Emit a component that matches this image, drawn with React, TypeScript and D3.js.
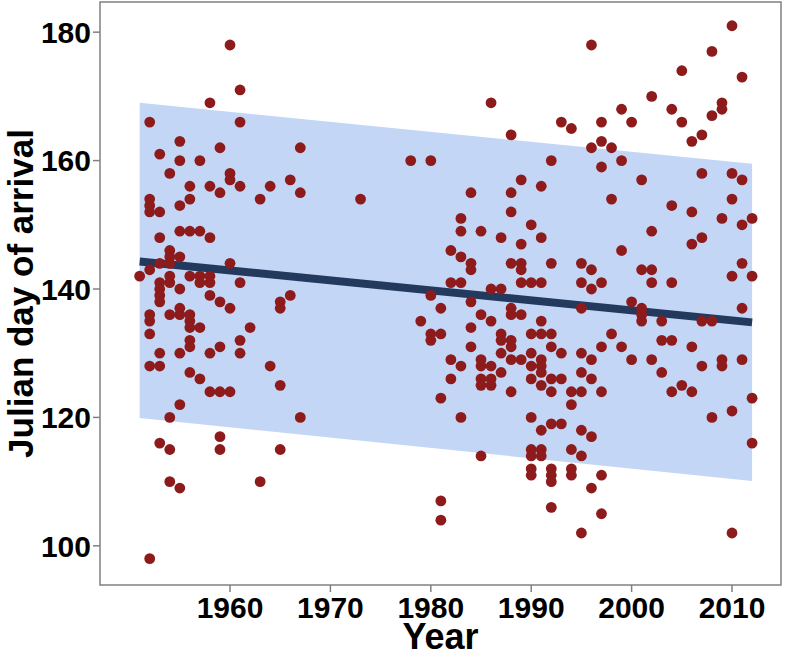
import React from "react";
import { scaleLinear, line, area } from "d3";

// years that have observations, and the arrival days seen in each of them
const obsYears = [
  1951, 1952, 1953, 1954, 1955, 1956, 1957, 1958, 1959, 1960, 1961, 1962, 1963,
  1964, 1965, 1966, 1967, 1973, 1978, 1979, 1980, 1981, 1982, 1983, 1984, 1985,
  1986, 1987, 1988, 1989, 1990, 1991, 1992, 1993, 1994, 1995, 1996, 1997, 1998,
  1999, 2000, 2001, 2002, 2003, 2004, 2005, 2006, 2007, 2008, 2009, 2010, 2011,
  2012,
];
const obsDays = [
  [142],
  [166, 154, 153, 152, 143, 136, 135, 133, 128, 98],
  [161, 152, 148, 144, 141, 140, 139, 138, 130, 128, 116],
  [158, 146, 145, 144, 142, 141, 136, 120, 115, 110],
  [163, 160, 153, 149, 145, 140, 137, 136, 130, 122, 109],
  [156, 154, 149, 142, 136, 135, 134, 132, 131, 127],
  [160, 149, 142, 141, 134, 126],
  [169, 156, 148, 142, 141, 139, 130, 124],
  [162, 155, 138, 131, 124, 117, 115],
  [178, 158, 157, 144, 137, 124],
  [171, 166, 156, 141, 132, 130],
  [134],
  [154, 110],
  [156, 128],
  [138, 137, 125, 115],
  [157, 139],
  [162, 155, 120],
  [154],
  [160],
  [135],
  [160, 139, 133, 132],
  [137, 133, 123, 107, 104],
  [146, 141, 129, 126],
  [151, 149, 145, 141, 128, 120],
  [155, 144, 143, 138, 134, 131],
  [149, 136, 129, 128, 126, 125, 114],
  [169, 140, 135, 128, 126, 125],
  [148, 140, 133, 132, 130, 127],
  [164, 155, 152, 144, 137, 136, 132, 131, 129, 124],
  [157, 147, 144, 143, 141, 136, 129],
  [150, 141, 133, 130, 128, 126, 120, 115, 114, 112, 111],
  [156, 148, 141, 135, 133, 129, 128, 127, 125, 118, 115, 114],
  [160, 144, 133, 131, 126, 124, 119, 112, 111, 110, 106],
  [166, 130, 126, 119],
  [165, 124, 122, 115, 112, 111],
  [144, 141, 137, 130, 127, 124, 118, 114, 102],
  [178, 162, 143, 140, 129, 126, 117, 109],
  [166, 163, 159, 141, 131, 124, 111, 105],
  [162, 154, 133],
  [168, 160, 146, 131],
  [166, 138, 129],
  [157, 143, 137, 136, 135],
  [170, 149, 143, 141, 129],
  [135, 132, 127],
  [168, 153, 141, 132, 124],
  [174, 166, 125],
  [163, 152, 147, 131, 124],
  [164, 158, 148, 135, 128],
  [177, 167, 135, 120],
  [169, 168, 151, 129, 128],
  [181, 158, 154, 142, 121, 102],
  [173, 157, 150, 144, 137, 129],
  [151, 142, 123, 116],
];

// fitted trend and its band, read at both ends
const fitYears = [1951, 2012];
const fitMean = [144.3, 134.8];
const fitUpper = [169.0, 159.5];
const fitLower = [119.9, 110.1];

const xTicks = [1960, 1970, 1980, 1990, 2000, 2010];
const yTicks = [100, 120, 140, 160, 180];

const W = 785;
const H = 656;
const panel = { left: 100, right: 781, top: 2, bottom: 585 };
const font = "'Liberation Sans', Arial, sans-serif";
const tickFont = "'Liberation Sans Narrow', 'Arial Narrow', 'Liberation Sans', sans-serif";

export default function App() {
  const x = scaleLinear().domain([1947.05, 2014.88]).range([panel.left, panel.right]);
  const y = scaleLinear().domain([93.9, 184.7]).range([panel.bottom, panel.top]);

  const points = obsYears.flatMap((yr, i) => obsDays[i].map((d) => ({ yr, d })));
  const band = fitYears.map((yr, i) => ({ yr, lo: fitLower[i], hi: fitUpper[i] }));
  const trend = fitYears.map((yr, i) => ({ yr, v: fitMean[i] }));

  const bandPath = area<any>()
    .x((d) => x(d.yr))
    .y0((d) => y(d.lo))
    .y1((d) => y(d.hi))(band);
  const trendPath = line<any>()
    .x((d) => x(d.yr))
    .y((d) => y(d.v))(trend);

  const midY = (panel.top + panel.bottom) / 2;
  const midX = (panel.left + panel.right) / 2;

  return (
    <svg
      width={W}
      height={H}
      style={{ position: "absolute", left: 0, top: 0, background: "#fff" }}
      fontFamily={font}
    >
      <path d={bandPath || ""} fill="#c4d6f5" />
      <path d={trendPath || ""} fill="none" stroke="#233a5e" strokeWidth={8} />
      {points.map((p, i) => (
        <circle key={i} cx={x(p.yr)} cy={y(p.d)} r={5.4} fill="#8e1b1b" />
      ))}
      <rect
        x={panel.left}
        y={panel.top}
        width={panel.right - panel.left}
        height={panel.bottom - panel.top}
        fill="none"
        stroke="#808080"
        strokeWidth={1.5}
      />
      {yTicks.map((t) => (
        <g key={t}>
          <line x1={panel.left - 7} x2={panel.left} y1={y(t)} y2={y(t)} stroke="#808080" strokeWidth={1.5} />
          <text
            x={panel.left - 9}
            y={y(t)}
            dy="0.36em"
            textAnchor="end"
            fontFamily={tickFont}
            fontSize={30}
            fontWeight="bold"
          >
            {t}
          </text>
        </g>
      ))}
      {xTicks.map((t) => (
        <g key={t}>
          <line x1={x(t)} x2={x(t)} y1={panel.bottom} y2={panel.bottom + 7} stroke="#808080" strokeWidth={1.5} />
          <text x={x(t)} y={618} textAnchor="middle" fontFamily={tickFont} fontSize={30} fontWeight="bold">
            {t}
          </text>
        </g>
      ))}
      <text x={midX} y={649} textAnchor="middle" fontSize={36} fontWeight="bold">
        Year
      </text>
      <text
        transform={`translate(33,${midY}) rotate(-90)`}
        textAnchor="middle"
        fontSize={35}
        fontWeight="bold"
      >
        Julian day of arrival
      </text>
    </svg>
  );
}
